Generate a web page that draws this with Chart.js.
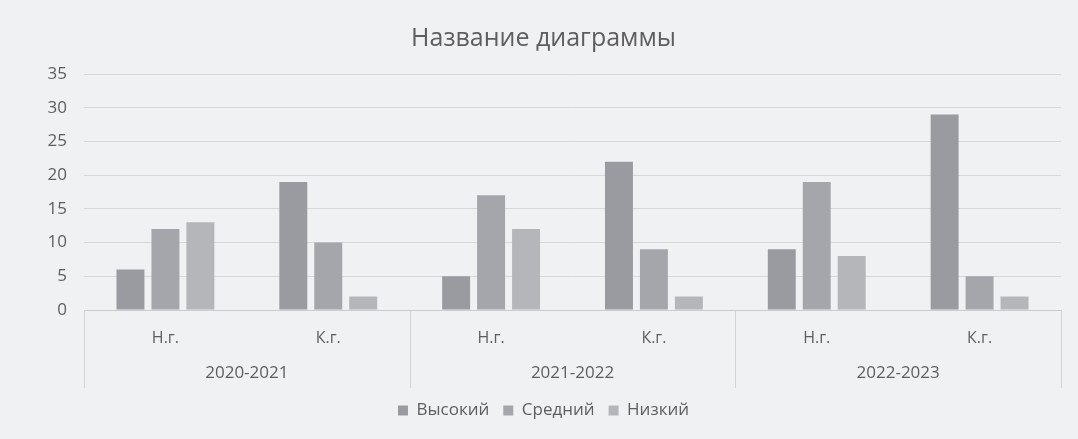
<!DOCTYPE html>
<html>
<head>
<meta charset="utf-8">
<script src="https://cdn.jsdelivr.net/npm/chart.js@4/dist/chart.umd.min.js"></script>
<style>
html,body{margin:0;padding:0;background:#eff1f3;}
#wrap{width:1078px;height:439px;position:relative;}
</style>
</head>
<body>
<div id="wrap"><canvas id="c" width="1078" height="439"></canvas></div>
<script>
const title = 'Название диаграммы';
const subCategories = ['Н.г.', 'К.г.', 'Н.г.', 'К.г.', 'Н.г.', 'К.г.'];
const years = ['2020-2021', '2021-2022', '2022-2023'];
const seriesNames = ['Высокий', 'Средний', 'Низкий'];
const high = [6, 19, 5, 22, 9, 29];
const mid = [12, 10, 17, 9, 19, 5];
const low = [13, 2, 12, 2, 8, 2];
const yTicks = [0, 5, 10, 15, 20, 25, 30, 35];

const colors = ['#9a9ba1', '#a5a6ab', '#b5b6ba'];
const textColor = '#5e5e5e';
const fontFamily = '"Open Sans", "Noto Sans", sans-serif';

const dividers = {
  id: 'dividers',
  afterDraw(chart) {
    const x = chart.scales.x, x2 = chart.scales.x2;
    const ctx = chart.ctx;
    ctx.save();
    ctx.strokeStyle = '#d2d3d6';
    ctx.lineWidth = 1;
    const n = years.length;
    for (let k = 0; k <= n; k++) {
      const px = Math.round(x2.left + k * x2.width / n) + 0.5;
      ctx.beginPath();
      ctx.moveTo(px, x.top);
      ctx.lineTo(px, x2.bottom);
      ctx.stroke();
    }
    ctx.restore();
  }
};

new Chart(document.getElementById('c'), {
  type: 'bar',
  data: {
    labels: subCategories,
    datasets: [
      { label: seriesNames[0], data: high, backgroundColor: colors[0] },
      { label: seriesNames[1], data: mid, backgroundColor: colors[1] },
      { label: seriesNames[2], data: low, backgroundColor: colors[2] }
    ]
  },
  options: {
    responsive: false,
    animation: false,
    layout: { padding: { left: 26, right: 17, top: 0, bottom: 10 } },
    datasets: { bar: { categoryPercentage: 0.644, barPercentage: 0.8 } },
    scales: {
      y: {
        min: 0, max: 35,
        afterBuildTicks(s) { s.ticks = yTicks.map(v => ({ value: v })); },
        afterFit(s) { s.width = 58; },
        grid: { color: '#d6d7da', drawTicks: false },
        border: { display: false },
        ticks: { color: textColor, padding: 17, font: { family: fontFamily, size: 17 } }
      },
      x: {
        weight: 0,
        afterFit(s) { s.height = 45; },
        grid: { display: false },
        border: { display: true, color: '#c9cacd' },
        ticks: { color: textColor, padding: 11, font: { family: fontFamily, size: 16 } }
      },
      x2: {
        type: 'category',
        labels: years,
        position: 'bottom',
        weight: 1,
        afterFit(s) { s.height = 33; },
        grid: { display: false },
        border: { display: false },
        ticks: { color: textColor, padding: 0, font: { family: fontFamily, size: 17 } }
      }
    },
    plugins: {
      title: {
        display: true, text: title, color: textColor,
        font: { family: fontFamily, size: 25, weight: 'normal' },
        padding: { top: 24, bottom: 20 }
      },
      legend: {
        position: 'bottom',
        labels: {
          color: textColor, boxWidth: 10, boxHeight: 10, padding: 14,
          font: { family: fontFamily, size: 17 }
        }
      },
      tooltip: { enabled: false }
    }
  },
  plugins: [dividers]
});
</script>
</body>
</html>
